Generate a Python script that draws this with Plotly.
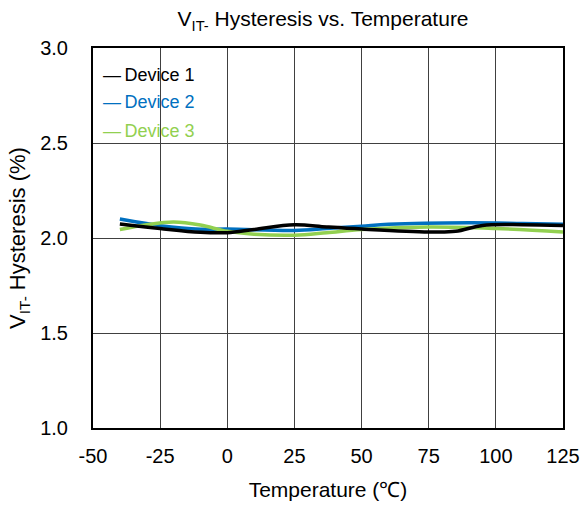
import plotly.graph_objects as go

# Device 1 (black)
t1 = [-40, -25, -10, 0, 10, 25, 37, 50, 75, 85, 95, 110, 125]
h1 = [2.074, 2.050, 2.030, 2.028, 2.045, 2.070, 2.058, 2.047, 2.032, 2.035, 2.066, 2.070, 2.066]
# Device 2 (blue)
t2 = [-40, -25, -10, 0, 25, 37, 50, 60, 90, 110, 125]
h2 = [2.100, 2.065, 2.046, 2.047, 2.040, 2.050, 2.062, 2.072, 2.080, 2.076, 2.072]
# Device 3 (green)
t3 = [-40, -30, -20, -10, 0, 10, 25, 37, 50, 75, 100, 125]
h3 = [2.045, 2.070, 2.084, 2.068, 2.035, 2.020, 2.015, 2.028, 2.045, 2.058, 2.050, 2.032]

series_names = ["Device 1", "Device 2", "Device 3"]
x_ticks = [-50, -25, 0, 25, 50, 75, 100, 125]
y_ticks = [1.0, 1.5, 2.0, 2.5, 3.0]

BLACK = "#000000"
BLUE = "#0070C0"
GREEN = "#92D050"
colors = [BLACK, BLUE, GREEN]

FONT = "Liberation Sans, Arial, sans-serif"

fig = go.Figure()
fig.add_trace(go.Scatter(x=t2, y=h2, mode="lines", line=dict(color=BLUE, width=3.5, shape="spline"),
                         name=series_names[1], showlegend=False))
fig.add_trace(go.Scatter(x=t3, y=h3, mode="lines", line=dict(color=GREEN, width=3.5, shape="spline"),
                         name=series_names[2], showlegend=False))
fig.add_trace(go.Scatter(x=t1, y=h1, mode="lines", line=dict(color=BLACK, width=3.5, shape="spline"),
                         name=series_names[0], showlegend=False))

# legend-like box (white, covering gridlines) with dash + coloured text entries
fig.add_shape(type="rect", xref="paper", yref="paper", x0=0.003, x1=0.274, y0=0.757, y1=0.966,
              fillcolor="white", line=dict(width=0), layer="between")
legend_y = [0.93, 0.858, 0.782]
for name, col, ly in zip(series_names, colors, legend_y):
    fig.add_annotation(xref="paper", yref="paper", x=0.017, y=ly, xanchor="left", yanchor="middle",
                       text=f"—\u2009{name}", showarrow=False,
                       font=dict(family=FONT, size=18, color=col))

fig.update_layout(
    width=580, height=509,
    margin=dict(l=93, r=17, t=48, b=81),
    paper_bgcolor="white", plot_bgcolor="white",
    font=dict(family=FONT, size=20, color="#000000"),
    title=dict(text="V<sub>IT-</sub> Hysteresis vs. Temperature", x=0.557, xanchor="center",
               y=0.963, yanchor="middle", font=dict(size=21)),
    showlegend=False,
    xaxis=dict(range=[-50, 125], tickvals=x_ticks, ticktext=[str(v) for v in x_ticks],
               showgrid=True, gridcolor="#404040", gridwidth=1,
               showline=True, linecolor="black", linewidth=2, mirror=True,
               ticks="", zeroline=False, ticklabelstandoff=9, automargin=False,
               tickfont=dict(size=20),
               title=dict(text="Temperature (℃)", standoff=16, font=dict(size=21))),
    yaxis=dict(range=[1.0, 3.0], tickvals=y_ticks, ticktext=[f"{v:.1f}" for v in y_ticks],
               showgrid=True, gridcolor="#404040", gridwidth=1,
               showline=True, linecolor="black", linewidth=2, mirror=True,
               ticks="", zeroline=False, ticklabelstandoff=19, automargin=False,
               tickfont=dict(size=20),
               title=dict(text="V<sub>IT-</sub> Hysteresis (%)", standoff=8, font=dict(size=22))),
)

fig.write_html(
    "out.html",
    config={"displayModeBar": False},
    post_script="document.body.style.margin='0px';document.body.style.overflow='hidden';",
)
